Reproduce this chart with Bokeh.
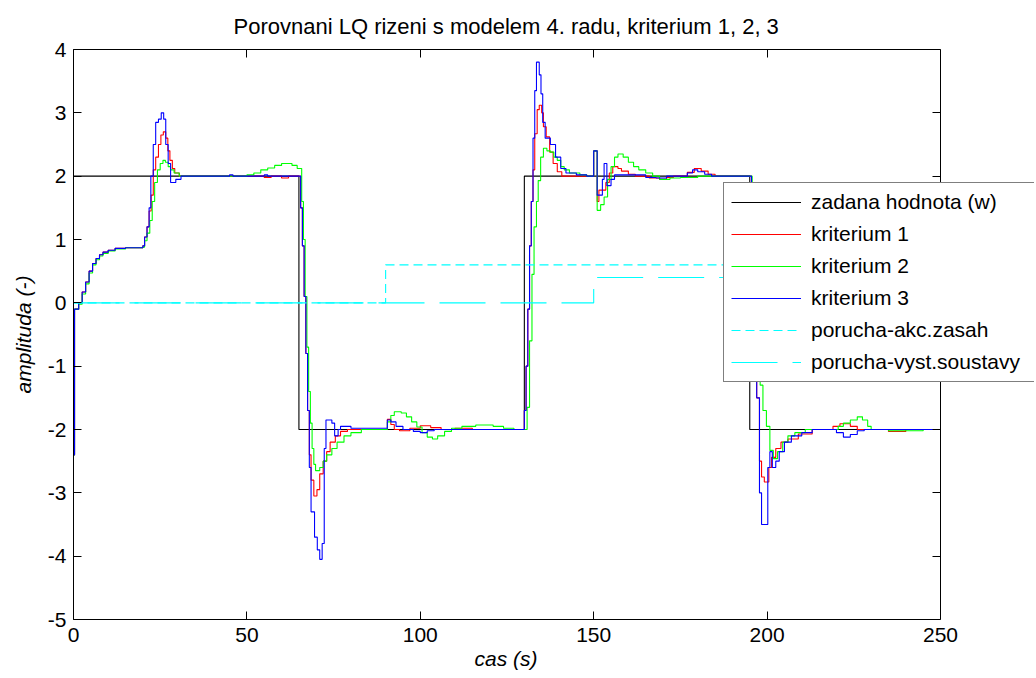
from bokeh.plotting import figure
from bokeh.models import Range1d, LinearAxis, FixedTicker, Title
from bokeh.embed import file_html
from bokeh.resources import INLINE

FONT = "Liberation Sans"

# ---------------- data ----------------
x_ticks = [0, 50, 100, 150, 200, 250]
y_ticks = [-5, -4, -3, -2, -1, 0, 1, 2, 3, 4]
x_lim = (0, 250)
y_lim = (-5, 4)

# reference signal w (step changes)
w_t = [0, 65, 130, 195, 250]
w_y = [2, -2, 2, -2, -2]

# disturbances
d_akc_t = [0, 90, 250]
d_akc_y = [0, 0.6, 0.6]
d_vyst_t = [0, 150, 250]
d_vyst_y = [0, 0.4, 0.4]

# kriterium 1 (red)
k1_pts = [(0, -2.4), (0.3, -0.1), (1.5, 0.0), (2.5, 0.17), (3.5, 0.33), (4.5, 0.5), (5.5, 0.62),
          (6.5, 0.7), (7.5, 0.76), (8.5, 0.8), (10, 0.83), (12, 0.86), (15, 0.87), (20, 0.9),
          (20.5, 1.04), (21.2, 1.2), (21.8, 1.45), (22.4, 1.7), (23, 2.1), (23.7, 2.3), (24.5, 2.5),
          (25.2, 2.65), (25.9, 2.7), (26.6, 2.6), (27.2, 2.4), (27.8, 2.25), (28.5, 2.12), (29.2, 2.05),
          (30.5, 2.0), (55, 1.98), (57, 2.0), (60, 1.97), (62, 2.0), (65.5, 1.5), (66, 0.9), (66.5, 0.1),
          (67, -0.8), (67.5, -1.7), (68, -2.4), (68.5, -2.8), (69.3, -3.05), (70.2, -2.95), (71, -2.7),
          (72, -2.5), (73, -2.35), (74, -2.2), (75.5, -2.1), (77, -2.03), (79, -2.0), (90.5, -1.84),
          (91.5, -1.92), (92.5, -2.0), (94, -2.02), (97, -1.98), (100, -1.94), (103, -1.97), (106, -2.0),
          (110, -1.98), (115, -2.0), (130, -1.7), (130.5, -1.0), (131, -0.1), (131.5, 0.9), (132, 1.6),
          (132.5, 2.1), (133, 2.67), (133.7, 3.05), (134.3, 3.12), (135, 3.0), (135.5, 2.78), (136.3, 2.62),
          (137.3, 2.38), (138.3, 2.2), (139.5, 2.07), (140.8, 2.0), (150, 2.4), (151, 1.6), (151.5, 1.78),
          (153.5, 1.9), (154.5, 2.05), (155.5, 2.15), (157, 2.12), (158, 2.08), (160, 2.03), (162, 2.0),
          (166, 1.97), (169, 1.95), (171, 1.98), (173, 2.0), (177, 2.06), (179, 2.12), (181, 2.08),
          (183, 2.03), (185, 2.0), (195.5, 1.0), (196.3, -0.5), (197, -1.5), (197.8, -2.5), (198.4, -2.75),
          (199.2, -2.83), (200.5, -2.6), (201.3, -2.44), (202.5, -2.3), (204, -2.2), (206, -2.15),
          (209, -2.07), (213, -2.0), (219, -1.95), (221, -1.91), (224, -1.95), (226, -2.0), (235, -2.03),
          (240, -2.0), (250, -2.0)]

# kriterium 2 (green)
k2_pts = [(0, -2.4), (0.3, -0.1), (1.5, -0.02), (2.5, 0.14), (3.5, 0.3), (4.5, 0.47), (5.5, 0.6),
          (6.5, 0.68), (7.5, 0.74), (8.5, 0.78), (10, 0.82), (12, 0.85), (15, 0.87), (20, 0.88),
          (20.5, 0.98), (21.2, 1.1), (22, 1.3), (22.7, 1.6), (23.4, 1.9), (24.2, 2.1), (25, 2.2),
          (25.8, 2.25), (26.5, 2.22), (27.3, 2.15), (28, 2.1), (29, 2.05), (30.5, 2.0), (50, 2.02),
          (52, 2.05), (54, 2.1), (56, 2.13), (58, 2.17), (60, 2.2), (63, 2.17), (64.5, 2.12), (65.8, 1.6),
          (66.3, 1.0), (66.8, 0.1), (67.3, -0.7), (67.8, -1.4), (68.3, -1.9), (68.8, -2.3), (69.3, -2.55),
          (69.8, -2.65), (71, -2.6), (72, -2.5), (73, -2.4), (74.5, -2.3), (76, -2.2), (78, -2.1),
          (80, -2.05), (83, -2.0), (90.5, -1.88), (91.5, -1.78), (92.5, -1.72), (94.5, -1.74), (96, -1.8),
          (97.5, -1.88), (99, -1.96), (100.5, -2.05), (102, -2.12), (103.5, -2.15), (105, -2.1),
          (107, -2.03), (109, -1.98), (112, -1.95), (116, -1.93), (121, -1.95), (124, -1.98), (127, -2.0),
          (130.8, -1.65), (131.5, -0.6), (132.2, 0.45), (132.8, 1.2), (133.5, 1.6), (134, 1.93),
          (134.7, 2.3), (135.5, 2.44), (136.5, 2.4), (137.5, 2.38), (138.5, 2.3), (139.5, 2.25),
          (140.5, 2.15), (141.5, 2.1), (143, 2.05), (146, 2.02), (148, 2.0), (150, 2.4), (151, 1.46),
          (152, 1.55), (153, 1.67), (154, 1.95), (155, 2.15), (156, 2.3), (157, 2.35), (158.5, 2.3),
          (160, 2.22), (161.5, 2.15), (163, 2.1), (165, 2.05), (167, 2.0), (169, 1.95), (172, 1.97),
          (175, 1.98), (180, 2.0), (195.7, 1.5), (196.5, 0.5), (197.3, -0.5), (198, -1.3), (198.8, -1.7),
          (199.8, -1.95), (200.8, -2.33), (201.8, -2.46), (203, -2.35), (204.5, -2.2), (206, -2.1),
          (208, -2.05), (211, -2.0), (219, -2.0), (220.5, -1.95), (222, -1.9), (224, -1.85), (226, -1.8),
          (227.5, -1.85), (229, -1.95), (230, -2.0), (235, -2.02), (245, -2.0), (250, -2.0)]

# kriterium 3 (blue)
k3_pts = [(0, -2.4), (0.3, -0.1), (1.5, 0.0), (2.5, 0.17), (3.5, 0.33), (4.5, 0.5), (5.5, 0.62),
          (6.5, 0.7), (7.5, 0.76), (8.5, 0.8), (10, 0.83), (12, 0.86), (15, 0.87), (20, 0.9),
          (20.5, 1.04), (21.2, 1.2), (21.8, 1.5), (22.3, 2.0), (23, 2.5), (23.7, 2.85), (24.5, 2.9),
          (25.3, 3.0), (26, 2.9), (26.6, 2.5), (27.3, 2.2), (28, 1.9), (29.5, 1.95), (31, 2.0),
          (45, 2.02), (46, 2.0), (55, 2.02), (56, 2.0), (65.5, 1.5), (66, 0.9), (66.5, 0.1), (67, -0.8),
          (67.5, -1.7), (68, -2.6), (68.5, -3.3), (69.5, -3.7), (70.3, -3.9), (71, -4.05), (71.7, -3.8),
          (72.3, -2.3), (72.8, -1.85), (74.5, -1.9), (75.3, -2.1), (76.3, -2.0), (77, -1.95), (80, -1.98),
          (90.5, -1.85), (91.5, -1.88), (93, -1.95), (95, -2.0), (98, -2.03), (100, -2.05), (102, -2.02),
          (104, -2.0), (130, -1.7), (130.5, -1.0), (131, -0.1), (131.5, 0.9), (132, 1.6), (132.5, 2.6),
          (133, 3.35), (133.5, 3.8), (134.3, 3.6), (134.8, 3.3), (135.3, 2.85), (136, 2.6), (137.5, 2.5),
          (139, 2.3), (140.5, 2.12), (142, 2.05), (145, 2.02), (148, 2.0), (150, 2.4), (151, 1.7),
          (152.5, 1.95), (153, 2.2), (153.8, 1.85), (155, 1.95), (156, 2.02), (165, 1.98), (168, 1.97),
          (171, 2.0), (177, 2.05), (178.5, 2.1), (180, 2.07), (182, 2.03), (184, 2.0), (195.5, 1.0),
          (196.3, -0.5), (197, -1.5), (197.8, -3.0), (198.4, -3.5), (200.2, -2.6), (200.8, -2.35),
          (201.5, -2.6), (202.5, -2.5), (203.5, -2.35), (205, -2.2), (207, -2.1), (210, -2.05), (213, -2.0),
          (220, -2.05), (222, -2.12), (224, -2.08), (226, -2.02), (228, -2.0), (250, -2.0)]

labels = ["zadana hodnota (w)", "kriterium 1", "kriterium 2", "kriterium 3",
          "porucha-akc.zasah", "porucha-vyst.soustavy"]

# ---------------- layout ----------------
W, H = 1036, 678
B_LEFT, B_TOP, B_BOTTOM, B_RIGHT = 73, 49, 59, 2
AXES_W = 867  # pixel width between t=0 and t=250 (the drawn box)
frame_w = W - B_LEFT - B_RIGHT
# the frame is wider than the axes box so that the legend can stick out to the right
x_end = x_lim[1] + (frame_w - AXES_W) * (x_lim[1] - x_lim[0]) / AXES_W

p = figure(width=W, height=H, output_backend="svg", toolbar_location=None,
           x_range=Range1d(x_lim[0], x_end), y_range=Range1d(*y_lim),
           min_border_left=B_LEFT, min_border_right=B_RIGHT, min_border_top=B_TOP,
           min_border_bottom=B_BOTTOM,
           background_fill_color="white", border_fill_color="white")
p.grid.visible = False
p.outline_line_color = None

p.title.text = "Porovnani LQ rizeni s modelem 4. radu, kriterium 1, 2, 3"
p.title.align = "left"
p.title.offset = 160
p.title.text_font = FONT
p.title.text_font_size = "22px"
p.title.text_font_style = "normal"
p.title.text_color = "black"
p.title.standoff = 21

def style_axis(ax, ticks, show_labels=True):
    ax.ticker = FixedTicker(ticks=ticks)
    ax.major_tick_in = 8
    ax.major_tick_out = 0
    ax.minor_tick_in = 0
    ax.minor_tick_out = 0
    ax.axis_line_color = "black"
    ax.axis_line_width = 1
    ax.major_tick_line_color = "black"
    ax.major_label_text_font = FONT
    ax.major_label_text_color = "black"
    ax.major_label_overrides = {t: str(t) for t in ticks}
    if show_labels:
        ax.major_label_text_font_size = "21px"
    else:
        ax.major_label_text_font_size = "0px"
        ax.major_label_standoff = 0

xa = p.xaxis[0]
ya = p.yaxis[0]
style_axis(xa, x_ticks)
style_axis(ya, y_ticks)
xa.bounds = x_lim
xa.major_label_standoff = 8
ya.major_label_standoff = 7
ya.axis_label = "amplituda (-)"
ya.axis_label_text_font = FONT
ya.axis_label_text_font_size = "21px"
ya.axis_label_text_font_style = "italic"
ya.axis_label_text_color = "black"
ya.axis_label_standoff = 10

# x-axis label as a title below the axis, centred on the t = 0..250 box
xlab = Title(text="cas (s)", align="left", offset=401, text_font=FONT, text_font_size="21px",
             text_font_style="italic", text_color="black", standoff=0)
p.add_layout(xlab, "below")

top_ax = LinearAxis()
style_axis(top_ax, x_ticks, show_labels=False)
top_ax.bounds = x_lim
p.add_layout(top_ax, "above")

right_ax = LinearAxis(fixed_location=x_lim[1])
style_axis(right_ax, y_ticks, show_labels=False)
p.add_layout(right_ax, "right")

# ---------------- series ----------------
p.step(w_t, w_y, mode="after", line_color="black", line_width=1.1)
for pts, col in ((k1_pts, "#ff0000"), (k2_pts, "#00ff00"), (k3_pts, "#0000ff")):
    xs = [a for a, b in pts]
    ys = [b for a, b in pts]
    p.step(xs, ys, mode="after", line_color=col, line_width=1.1)
p.step(d_akc_t, d_akc_y, mode="after", line_color="#00ffff", line_width=1.1, line_dash="9 5")
p.step(d_vyst_t, d_vyst_y, mode="after", line_color="#00ffff", line_width=1.1, line_dash="46 15")

# legend entries: one-point line renderers (draw nothing in the plot) carry the legend style
styles = [("black", "solid"), ("#ff0000", "solid"), ("#00ff00", "solid"), ("#0000ff", "solid"),
          ("#00ffff", "9 5"), ("#00ffff", "46 15")]
firsts = [(w_t[0], w_y[0]), k1_pts[0], k2_pts[0], k3_pts[0],
          (d_akc_t[0], d_akc_y[0]), (d_vyst_t[0], d_vyst_y[0])]
for lab, (col, dash), (fx, fy) in zip(labels, styles, firsts):
    p.line(x=[fx], y=[fy], line_color=col, line_width=1.1, line_dash=dash, legend_label=lab)

lg = p.legend[0]
lg.location = (650, 237)
lg.border_line_color = "black"
lg.border_line_width = 1
lg.background_fill_color = "white"
lg.background_fill_alpha = 1
lg.label_text_font = FONT
lg.label_text_font_size = "21px"
lg.label_text_color = "black"
lg.glyph_width = 70
lg.glyph_height = 22
lg.label_height = 22
lg.label_width = 216
lg.label_standoff = 10
lg.spacing = 8
lg.padding = 7
lg.margin = 0

open("out.html", "w").write(file_html(p, INLINE))
